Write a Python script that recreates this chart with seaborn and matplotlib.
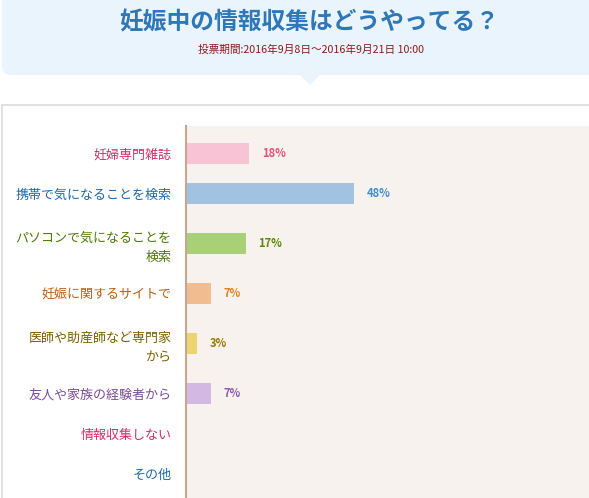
import matplotlib
matplotlib.use("Agg")
import matplotlib.pyplot as plt
import seaborn as sns
import pandas as pd
import numpy as np
from matplotlib.patches import FancyBboxPatch, Polygon
from matplotlib.lines import Line2D

# ---- data ----
title = "妊娠中の情報収集はどうやってる？"
subtitle = "投票期間:2016年9月8日～2016年9月21日 10:00"
categories = [
    "妊婦専門雑誌",
    "携帯で気になることを検索",
    "パソコンで気になることを\n検索",
    "妊娠に関するサイトで",
    "医師や助産師など専門家\nから",
    "友人や家族の経験者から",
    "情報収集しない",
    "その他",
]
values = [18, 48, 17, 7, 3, 7, 0, 0]
label_colors = ["#CC3366", "#1E69A8", "#4F7A00", "#C06010",
                "#7A6000", "#7B4B9B", "#D0306A", "#1E69A8"]
bar_colors = ["#F7C3D5", "#A2C2E2", "#A8D077", "#F0BC90",
              "#ECD470", "#D4B8E4", "#F7C3D5", "#A2C2E2"]
pct_colors = ["#E8507E", "#3F8CD0", "#5A8A00", "#E08020",
              "#9A7A00", "#8A5AB0", "#E8507E", "#3F8CD0"]

# row positions derived from number of label lines (taller rows for 2-line labels)
row_h = [1.0 + 0.5 * (c.count("\n")) for c in categories]
edges = np.concatenate([[0], np.cumsum(row_h)])
ypos = (edges[:-1] + edges[1:]) / 2

sns.set_style("white")
plt.rcParams["font.family"] = ["Noto Sans CJK JP", "DejaVu Sans"]

W, H = 589, 498
fig = plt.figure(figsize=(W / 100, H / 100), dpi=100)
fig.patch.set_facecolor("white")

# header box (pixel -> inches transform)
tr = fig.dpi_scale_trans
def px(x, y):
    return (x / 100, (H - y) / 100)

hb = FancyBboxPatch(px(2, 75), (W + 20) / 100, 0.9,
                    boxstyle="round,pad=0,rounding_size=0.09",
                    transform=tr, facecolor="#EAF4FD", edgecolor="none", zorder=0)
fig.patches.append(hb)
tri = Polygon([px(299, 74), px(310, 85), px(321, 74)], closed=True,
              transform=tr, facecolor="#EAF4FD", edgecolor="none", zorder=0)
fig.patches.append(tri)

# grey frame lines
fig.lines.append(Line2D([2 / 100, W / 100], [(H - 105) / 100] * 2, transform=tr,
                        color="#DDDDDD", linewidth=1.2))
fig.lines.append(Line2D([2 / 100, 2 / 100], [(H - 105) / 100, 0], transform=tr,
                        color="#DDDDDD", linewidth=1.2))

fig.text(309 / W, 1 - 22 / H, title, ha="center", va="center",
         fontsize=17.1, fontweight="bold", color="#2F78B8")
fig.text(311 / W, 1 - 50 / H, subtitle, ha="center", va="center",
         fontsize=7.7, color="#8B1A1A")

# ---- axes ----
ax = fig.add_axes([186 / W, 0, 1 - 186 / W, 1 - 126 / H])
ax.set_facecolor("#F7F2EE")

df = pd.DataFrame({"category": categories, "value": values, "ypos": ypos})
sns.barplot(data=df, x="value", y="ypos", hue="category",
            palette=dict(zip(categories, bar_colors)), orient="h",
            native_scale=True, width=0.525, saturation=1, dodge=False,
            legend=False, linewidth=0, ax=ax)

unit_px = 40.0
ax.set_xlim(0, 115)
top_pad = 27.5 / unit_px
ax.set_ylim(ypos[0] + (H - 126 - 27.5) / unit_px, ypos[0] - top_pad)

ax.set_yticks(ypos)
ax.set_yticklabels(categories, fontsize=9.4, linespacing=1.6)
for t, c in zip(ax.get_yticklabels(), label_colors):
    t.set_color(c)
ax.tick_params(axis="y", length=0, pad=10.5)
ax.set_xticks([])
ax.set_xlabel("")
ax.set_ylabel("")

for s in ["top", "right", "bottom"]:
    ax.spines[s].set_visible(False)
ax.spines["left"].set_color("#C9A594")
ax.spines["left"].set_linewidth(1.5)

for v, y, c in zip(values, ypos, pct_colors):
    if v > 0:
        ax.annotate(f"{v}%", xy=(v, y), xytext=(9.3, 0), textcoords="offset points",
                    ha="left", va="center", fontsize=8, fontweight="bold", color=c)

fig.savefig("out.png", dpi=100)
